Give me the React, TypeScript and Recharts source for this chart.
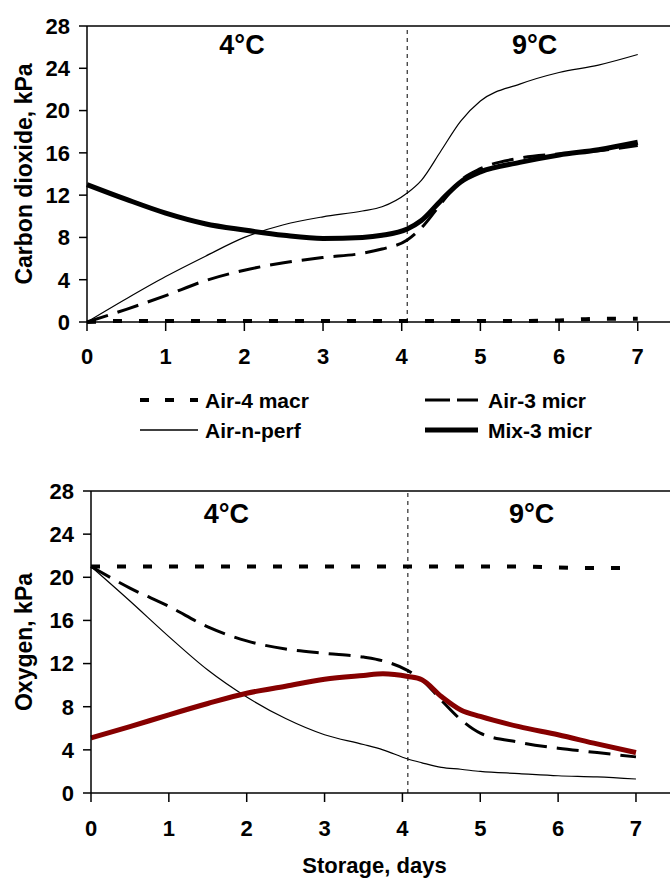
import React from "react";
import {
  LineChart,
  Line,
  XAxis,
  YAxis,
  ReferenceLine,
  ReferenceDot,
} from "recharts";

// storage time, days (temperature switched from 4 to 9 °C at ~4.07 d)
const days = [0, 0.5, 1, 1.5, 2, 2.5, 3, 3.5, 3.75, 4.07, 4.25, 4.5, 4.75, 5, 5.5, 6, 6.5, 7];

// carbon dioxide, kPa
const co2Air4Macr = [0, 0.1, 0.1, 0.1, 0.1, 0.1, 0.1, 0.1, 0.1, 0.1, 0.1, 0.1, 0.1, 0.1, 0.1, 0.15, 0.3, 0.3];
const co2Air3Micr = [0, 1.2, 2.5, 3.9, 4.9, 5.6, 6.1, 6.5, 6.9, 7.75, 8.9, 11.2, 13.4, 14.5, 15.5, 15.9, 16.2, 16.7];
const co2AirNPerf = [0, 2.2, 4.3, 6.2, 8.0, 9.2, 9.95, 10.5, 10.9, 12.2, 13.4, 16.2, 19.0, 20.9, 22.5, 23.6, 24.3, 25.3];
const co2Mix3Micr = [13.0, 11.6, 10.3, 9.3, 8.7, 8.2, 7.9, 8.0, 8.2, 8.8, 9.6, 11.5, 13.25, 14.2, 15.1, 15.8, 16.3, 17.0];

// oxygen, kPa
const o2Air4Macr = [21, 21, 21, 21, 21, 21, 21, 21, 21, 21, 21, 21, 21, 21, 21, 20.9, 20.85, 20.85];
const o2Air3Micr = [21, 19.0, 17.3, 15.4, 14.1, 13.35, 12.95, 12.6, 12.25, 11.35, 10.5, 8.6, 6.8, 5.55, 4.7, 4.15, 3.75, 3.35];
const o2AirNPerf = [21, 17.8, 14.5, 11.4, 8.9, 6.9, 5.4, 4.5, 4.0, 3.15, 2.8, 2.37, 2.2, 2.0, 1.8, 1.6, 1.5, 1.3];
const o2Mix3Micr = [5.1, 6.15, 7.25, 8.3, 9.25, 9.9, 10.55, 10.9, 11.05, 10.8, 10.5, 8.95, 7.7, 7.1, 6.15, 5.4, 4.55, 3.75];

const xTicks = [0, 1, 2, 3, 4, 5, 6, 7];
const yTicks = [0, 4, 8, 12, 16, 20, 24, 28];
const switchDay = 4.07;

const FONT = "'Liberation Sans', Arial, Helvetica, sans-serif";
const MIX_O2_COLOR = "#860000";

const co2Data = days.map((d, i) => ({
  day: d,
  air4: co2Air4Macr[i],
  air3: co2Air3Micr[i],
  nperf: co2AirNPerf[i],
  mix: co2Mix3Micr[i],
}));

const o2Data = days.map((d, i) => ({
  day: d,
  air4: o2Air4Macr[i],
  air3: o2Air3Micr[i],
  nperf: o2AirNPerf[i],
  mix: o2Mix3Micr[i],
}));

const tickStyle = { fontSize: 22, fontWeight: "bold", fill: "#000", fontFamily: FONT };
const axisStroke = { stroke: "#000", strokeWidth: 1.5 };
const tempStyle = { fontSize: 27, fontWeight: "bold", fill: "#000", fontFamily: FONT };

function GasChart({
  data,
  height,
  yWidth,
  xMax,
  xAxisHeight,
  xTickMargin,
  yTitle,
  xTitle,
  mixColor,
  temp4,
  temp9,
}: {
  data: typeof co2Data;
  height: number;
  yWidth: number;
  xMax: number;
  xAxisHeight: number;
  xTickMargin: number;
  yTitle: string;
  xTitle?: string;
  mixColor: string;
  temp4: [number, number];
  temp9: [number, number];
}) {
  return (
    <LineChart
      width={670}
      height={height}
      data={data}
      margin={{ top: 26, right: 0, left: 0, bottom: 0 }}
    >
      <XAxis
        dataKey="day"
        type="number"
        domain={[0, xMax]}
        ticks={xTicks}
        allowDecimals={false}
        height={xAxisHeight}
        tick={tickStyle}
        tickSize={9}
        tickMargin={xTickMargin}
        axisLine={axisStroke}
        tickLine={axisStroke}
        label={
          xTitle
            ? {
                value: xTitle,
                position: "insideBottom",
                offset: 6,
                dx: -6,
                style: { fontSize: 22, fontWeight: "bold", fill: "#000", fontFamily: FONT },
              }
            : undefined
        }
      />
      <YAxis
        type="number"
        domain={[0, 28]}
        ticks={yTicks}
        width={yWidth}
        tick={tickStyle}
        tickSize={8}
        tickMargin={9}
        axisLine={axisStroke}
        tickLine={axisStroke}
        label={{
          value: yTitle,
          angle: -90,
          position: "insideLeft",
          offset: 24,
          style: {
            textAnchor: "middle",
            fontSize: 23,
            fontWeight: "bold",
            fill: "#000",
            fontFamily: FONT,
          },
        }}
      />
      <ReferenceLine y={28} stroke="#000" strokeWidth={1.5} />
      <ReferenceLine x={switchDay} stroke="#000" strokeWidth={1} strokeDasharray="4 4" />
      <ReferenceDot
        x={temp4[0]}
        y={temp4[1]}
        r={0}
        fill="none"
        stroke="none"
        label={{ value: "4°C", position: "center", style: tempStyle }}
      />
      <ReferenceDot
        x={temp9[0]}
        y={temp9[1]}
        r={0}
        fill="none"
        stroke="none"
        label={{ value: "9°C", position: "center", style: tempStyle }}
      />
      <Line
        dataKey="nperf"
        type="monotone"
        stroke="#000"
        strokeWidth={1.2}
        dot={false}
        isAnimationActive={false}
      />
      <Line
        dataKey="air3"
        type="monotone"
        stroke="#000"
        strokeWidth={3}
        strokeDasharray="22 10"
        dot={false}
        isAnimationActive={false}
      />
      <Line
        dataKey="mix"
        type="monotone"
        stroke={mixColor}
        strokeWidth={5}
        dot={false}
        isAnimationActive={false}
      />
      <Line
        dataKey="air4"
        type="monotone"
        stroke="#000"
        strokeWidth={4}
        strokeDasharray="9 17"
        dot={false}
        isAnimationActive={false}
      />
    </LineChart>
  );
}

const legendItems = [
  { name: "Air-4 macr", col: 0, row: 0, width: 4, dash: "9 16" },
  { name: "Air-3 micr", col: 1, row: 0, width: 3, dash: "25 7" },
  { name: "Air-n-perf", col: 0, row: 1, width: 1.5, dash: undefined },
  { name: "Mix-3 micr", col: 1, row: 1, width: 5, dash: undefined },
];

function GasLegend() {
  const colX = [140, 425];
  const rowY = [400, 430];
  return (
    <svg
      width={670}
      height={879}
      style={{ position: "absolute", left: 0, top: 0, pointerEvents: "none" }}
    >
      {legendItems.map((it) => {
        const x = colX[it.col];
        const y = rowY[it.row];
        const len = it.col === 0 ? 58 : 53;
        return (
          <g key={it.name}>
            <line
              x1={x}
              x2={x + len}
              y1={y}
              y2={y}
              stroke="#000"
              strokeWidth={it.width}
              strokeDasharray={it.dash}
            />
            <text
              x={x + len + (it.col === 0 ? 7 : 10)}
              y={y + 8}
              fontSize={21}
              fontWeight="bold"
              fontFamily={FONT}
              fill="#000"
            >
              {it.name}
            </text>
          </g>
        );
      })}
    </svg>
  );
}

export default function App() {
  return (
    <div
      style={{
        position: "absolute",
        left: 0,
        top: 0,
        width: 670,
        height: 879,
        background: "#fff",
        overflow: "hidden",
      }}
    >
      <div style={{ position: "absolute", left: 0, top: 0 }}>
        <GasChart
          data={co2Data}
          height={380}
          yWidth={87}
          xMax={7.41}
          xAxisHeight={58}
          xTickMargin={17}
          yTitle="Carbon dioxide, kPa"
          mixColor="#000"
          temp4={[1.97, 26.27]}
          temp9={[5.69, 26.27]}
        />
      </div>
      <div style={{ position: "absolute", left: 0, top: 465 }}>
        <GasChart
          data={o2Data}
          height={414}
          yWidth={91}
          xMax={7.437}
          xAxisHeight={86}
          xTickMargin={18}
          yTitle="Oxygen, kPa"
          xTitle="Storage, days"
          mixColor={MIX_O2_COLOR}
          temp4={[1.74, 25.94]}
          temp9={[5.66, 25.94]}
        />
      </div>
      <GasLegend />
    </div>
  );
}
